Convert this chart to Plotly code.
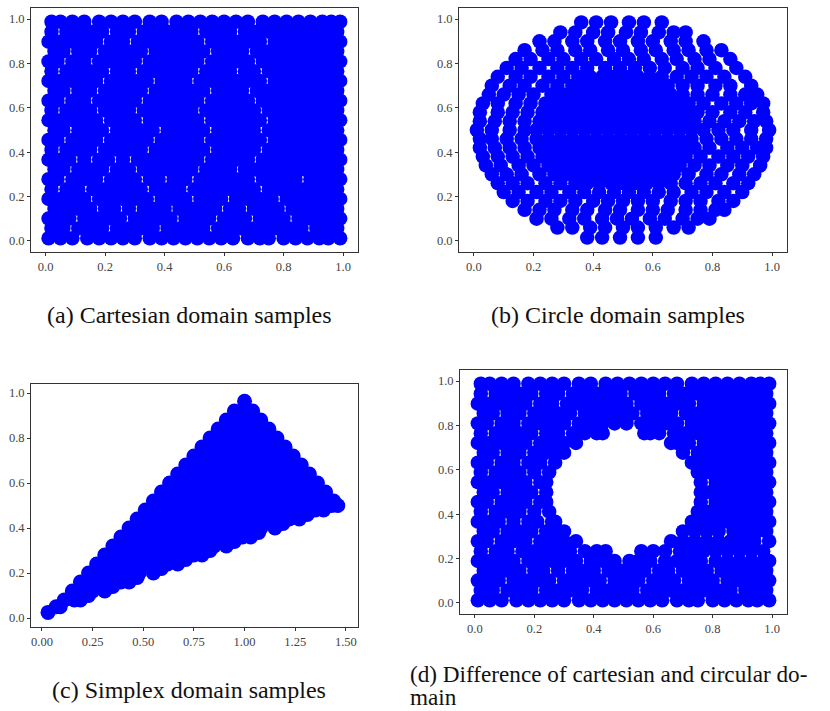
import plotly.graph_objects as go

W, H = 830, 711
BLUE = "#0000ff"

captions = ["(a) Cartesian domain samples", "(b) Circle domain samples", "(c) Simplex domain samples"]
caption_d = ["Difference of cartesian and circular do-", "main"]
caption_d_label = "(d)"

a_y = [.012,.056,.101,.145,.189,.233,.278,.322,.366,.411,.455,.499,.544,.588,.632,.677,.721,.765,.809,.854,.898,.943,.988]
a_x = [
[.01,.05,.09,.14,.18,.22,.26,.30,.35,.39,.43,.47,.51,.55,.59,.63,.68,.72,.75,.80,.84,.88,.92,.95,.99],
[.02,.06,.11,.15,.19,.24,.28,.32,.36,.41,.45,.49,.53,.58,.62,.66,.70,.74,.78,.82,.86,.91,.94,.98],
[.01,.04,.08,.13,.17,.21,.25,.30,.34,.38,.42,.47,.51,.55,.60,.64,.67,.72,.76,.80,.85,.89,.93,.96,.99],
[.03,.07,.11,.15,.20,.23,.28,.33,.36,.40,.45,.49,.53,.57,.62,.65,.70,.74,.78,.83,.87,.91,.95,.98],
[.01,.05,.09,.13,.18,.22,.26,.30,.34,.39,.43,.47,.52,.55,.59,.64,.68,.72,.76,.81,.85,.89,.93,.97,.99],
[.02,.07,.11,.16,.20,.24,.28,.32,.37,.41,.45,.50,.54,.58,.62,.66,.70,.75,.79,.83,.87,.91,.95,.98],
[.01,.04,.09,.13,.17,.22,.26,.30,.35,.38,.43,.47,.52,.56,.60,.64,.68,.73,.77,.81,.84,.89,.93,.97,.99],
[.03,.06,.11,.15,.19,.24,.28,.33,.37,.41,.45,.49,.54,.58,.62,.67,.71,.75,.79,.83,.87,.91,.95,.98],
[.01,.05,.08,.13,.18,.21,.26,.31,.35,.39,.43,.47,.51,.56,.60,.64,.68,.73,.77,.81,.85,.89,.93,.96,.99],
[.02,.07,.11,.15,.20,.24,.28,.32,.37,.41,.45,.49,.53,.58,.62,.66,.70,.75,.79,.83,.87,.91,.95,.98],
[.01,.04,.09,.13,.17,.22,.26,.30,.34,.39,.43,.47,.51,.56,.60,.64,.68,.72,.77,.81,.85,.89,.93,.97,.99],
[.03,.06,.11,.15,.19,.24,.28,.32,.36,.41,.45,.49,.53,.58,.62,.66,.70,.75,.79,.83,.87,.91,.95,.98],
[.01,.05,.09,.13,.17,.22,.26,.30,.35,.39,.43,.47,.51,.56,.60,.64,.68,.72,.77,.81,.85,.89,.93,.96,.99],
[.02,.07,.11,.15,.20,.24,.28,.33,.37,.41,.45,.49,.54,.58,.62,.66,.70,.75,.79,.83,.87,.91,.95,.98],
[.01,.04,.09,.13,.18,.22,.26,.30,.35,.39,.43,.47,.51,.56,.60,.64,.68,.73,.77,.81,.85,.89,.93,.97,.99],
[.03,.06,.11,.15,.20,.24,.28,.32,.37,.41,.45,.49,.53,.58,.62,.66,.71,.75,.79,.83,.87,.91,.95,.98],
[.01,.05,.09,.13,.17,.22,.26,.30,.34,.39,.43,.47,.52,.56,.60,.64,.68,.72,.77,.81,.85,.89,.93,.96,.99],
[.02,.07,.11,.15,.19,.24,.28,.33,.37,.41,.45,.49,.54,.58,.62,.67,.70,.75,.79,.83,.87,.91,.95,.98],
[.01,.04,.09,.13,.18,.22,.26,.30,.35,.39,.43,.47,.51,.56,.60,.64,.68,.73,.77,.81,.85,.89,.93,.97,.99],
[.03,.06,.11,.15,.20,.24,.28,.32,.37,.41,.45,.49,.53,.58,.62,.66,.71,.75,.79,.83,.87,.91,.95,.98],
[.01,.05,.09,.13,.17,.22,.26,.31,.35,.39,.43,.47,.51,.56,.60,.64,.68,.72,.77,.81,.85,.89,.93,.96,.99],
[.02,.07,.11,.15,.19,.24,.28,.33,.37,.41,.45,.49,.54,.58,.62,.67,.71,.75,.79,.83,.87,.91,.95,.98],
[.02,.05,.09,.13,.18,.22,.26,.30,.35,.39,.44,.48,.52,.56,.60,.64,.68,.73,.77,.81,.85,.89,.93,.96,.99],
]

b_y = [.015,.06,.10,.14,.18,.22,.26,.30,.34,.38,.42,.46,.50,.54,.58,.62,.66,.70,.74,.78,.82,.86,.90,.94,.985]
b_x = [
[.38,.43,.49,.55,.61],
[.28,.33,.39,.44,.50,.55,.61,.67,.72],
[.21,.26,.32,.37,.43,.48,.53,.59,.64,.70,.75,.79],
[.17,.22,.27,.33,.38,.44,.49,.55,.60,.65,.71,.76,.81,.84],
[.13,.18,.24,.29,.34,.40,.45,.50,.55,.60,.66,.71,.76,.82,.87],
[.10,.15,.21,.26,.32,.37,.42,.47,.52,.57,.62,.67,.73,.78,.84,.90],
[.08,.13,.18,.24,.29,.34,.38,.42,.46,.50,.54,.58,.62,.66,.71,.76,.81,.87,.92],
[.06,.11,.16,.22,.27,.31,.35,.39,.43,.47,.51,.55,.59,.63,.67,.72,.78,.83,.89,.94],
[.04,.09,.15,.20,.25,.29,.33,.37,.41,.45,.49,.53,.57,.61,.65,.69,.74,.79,.85,.90,.96],
[.03,.08,.13,.18,.23,.27,.31,.35,.39,.43,.47,.51,.55,.59,.63,.67,.71,.76,.82,.87,.92,.97],
[.02,.07,.12,.17,.22,.26,.30,.34,.38,.42,.46,.50,.54,.58,.62,.66,.70,.74,.79,.85,.90,.95,.98],
[.02,.06,.11,.16,.21,.25,.29,.33,.37,.41,.45,.49,.53,.57,.61,.65,.69,.73,.78,.83,.88,.93,.98],
[.01,.06,.12,.17,.21,.25,.29,.33,.37,.41,.45,.49,.53,.57,.61,.65,.69,.73,.77,.82,.87,.93,.99],
[.02,.07,.12,.17,.22,.26,.30,.34,.38,.42,.46,.50,.54,.58,.62,.66,.70,.74,.79,.84,.89,.94,.98],
[.02,.08,.13,.18,.23,.27,.31,.35,.39,.43,.47,.51,.55,.59,.63,.67,.71,.75,.80,.86,.91,.97],
[.03,.08,.14,.19,.24,.28,.32,.36,.40,.44,.48,.52,.56,.60,.64,.68,.72,.77,.83,.88,.93,.97],
[.05,.10,.15,.20,.26,.30,.34,.38,.42,.46,.50,.54,.58,.62,.66,.70,.75,.80,.86,.91,.95],
[.06,.12,.17,.23,.28,.33,.37,.41,.45,.49,.53,.57,.61,.65,.70,.75,.81,.86,.93],
[.08,.14,.19,.25,.30,.35,.39,.43,.47,.51,.55,.59,.63,.68,.73,.78,.84,.91],
[.11,.16,.22,.28,.33,.38,.44,.49,.54,.59,.64,.70,.75,.81,.88],
[.14,.19,.25,.30,.36,.41,.47,.52,.57,.63,.68,.74,.79,.86],
[.17,.23,.28,.34,.39,.45,.50,.56,.61,.67,.72,.78,.83],
[.22,.27,.33,.38,.44,.49,.55,.60,.66,.71,.77],
[.29,.34,.40,.45,.51,.56,.62,.67,.71],
[.36,.41,.46,.52,.57,.63],
]

c_y = [.025,.05,.08,.12,.16,.20,.24,.28,.32,.36,.40,.44,.48,.50,.52,.56,.60,.64,.68,.72,.76,.80,.84,.88,.92,.963,
       .10,.14,.18,.22,.26,.30,.34,.38,.42,.46]
c_x = [
[.03],
[.07,.09],
[.11,.16,.19],
[.15,.20,.25,.31],
[.19,.24,.29,.34,.39,.43],
[.23,.28,.33,.38,.43,.48,.55],
[.27,.32,.37,.42,.47,.52,.57,.62,.67],
[.31,.36,.41,.46,.51,.56,.61,.66,.71,.75,.79],
[.35,.40,.45,.50,.55,.60,.65,.70,.75,.80,.85,.91],
[.39,.44,.49,.54,.59,.64,.69,.74,.79,.84,.89,.94,.99,1.03],
[.43,.48,.53,.58,.63,.68,.73,.78,.83,.88,.93,.98,1.03,1.08,1.15],
[.47,.52,.57,.62,.67,.72,.77,.82,.87,.92,.97,1.02,1.07,1.12,1.17,1.22,1.27],
[.51,.56,.61,.66,.71,.76,.81,.86,.91,.96,1.01,1.06,1.11,1.16,1.21,1.26,1.31,1.35,1.39],
[1.46,1.43],
[.55,.60,.65,.70,.75,.80,.85,.90,.95,1.00,1.05,1.10,1.15,1.20,1.25,1.30,1.35,1.40,1.44],
[.59,.64,.69,.74,.79,.84,.89,.94,.99,1.04,1.09,1.14,1.19,1.24,1.29,1.34,1.40],
[.63,.68,.73,.78,.83,.88,.93,.98,1.03,1.08,1.13,1.18,1.23,1.28,1.32,1.36],
[.67,.72,.77,.82,.87,.92,.97,1.02,1.07,1.12,1.17,1.22,1.27,1.32],
[.71,.76,.81,.86,.91,.96,1.01,1.06,1.11,1.16,1.21,1.25,1.28],
[.75,.80,.85,.90,.95,1.00,1.05,1.10,1.15,1.20,1.24],
[.79,.84,.89,.94,.99,1.04,1.09,1.14,1.20],
[.83,.88,.93,.98,1.03,1.08,1.12,1.16],
[.87,.92,.97,1.02,1.07,1.12],
[.91,.96,1.01,1.05,1.08],
[.95,1.00,1.04],
[1.00],
[.23],[.35],[.47],[.59],[.71],[.83],[.95],[1.07],[1.19],[1.31],
]

d_y = [.012,.056,.101,.145,.189,.233,.278,.322,.366,.411,.455,.499,.544,.588,.632,.677,.721,.765,.809,.854,.898,.943,.988]
d_x = [
[.01,.05,.09,.14,.18,.22,.26,.30,.35,.39,.43,.47,.51,.55,.59,.63,.68,.72,.75,.80,.84,.88,.92,.95,.99],
[.02,.06,.11,.15,.19,.24,.28,.32,.36,.41,.45,.49,.53,.58,.62,.66,.70,.74,.78,.82,.86,.91,.94,.98],
[.01,.04,.08,.13,.17,.21,.25,.30,.34,.38,.42,.47,.51,.55,.60,.64,.67,.72,.76,.80,.85,.89,.93,.96,.99],
[.03,.07,.11,.15,.20,.23,.28,.33,.36,.40,.45,.49,.53,.57,.62,.65,.70,.74,.78,.83,.87,.91,.95,.98],
[.01,.05,.09,.13,.18,.22,.26,.30,.34,.39,.43,.47,.52,.55,.59,.64,.68,.72,.76,.81,.85,.89,.93,.97,.99],
[.02,.07,.11,.16,.20,.24,.28,.32,.37,.41,.44,.56,.60,.64,.69,.73,.77,.81,.85,.89,.93,.97],
[.01,.04,.09,.13,.17,.22,.26,.30,.34,.66,.70,.74,.78,.82,.86,.90,.94,.99],
[.03,.06,.11,.15,.19,.24,.28,.30,.70,.74,.78,.82,.87,.91,.95,.98],
[.01,.05,.08,.13,.18,.21,.26,.27,.73,.77,.81,.85,.89,.93,.96,.99],
[.02,.07,.11,.15,.20,.25,.75,.79,.83,.87,.91,.95,.98],
[.01,.04,.09,.13,.17,.22,.24,.76,.81,.85,.89,.93,.97,.99],
[.03,.06,.11,.15,.19,.24,.76,.79,.83,.87,.91,.95,.98],
[.01,.05,.09,.13,.17,.22,.24,.76,.81,.85,.89,.93,.96,.99],
[.02,.07,.11,.15,.20,.25,.75,.79,.83,.87,.91,.95,.98],
[.01,.04,.09,.13,.18,.22,.27,.73,.77,.81,.85,.89,.93,.97,.99],
[.03,.06,.11,.15,.20,.24,.28,.30,.70,.75,.79,.83,.87,.91,.95,.98],
[.01,.05,.09,.13,.17,.22,.26,.30,.34,.66,.68,.72,.77,.81,.85,.89,.93,.96,.99],
[.02,.07,.11,.15,.19,.24,.28,.33,.37,.41,.43,.57,.59,.62,.67,.71,.75,.79,.83,.87,.91,.95,.98],
[.01,.04,.09,.13,.18,.22,.26,.30,.35,.39,.43,.47,.51,.56,.60,.64,.68,.73,.77,.81,.85,.89,.93,.97,.99],
[.03,.06,.11,.15,.20,.24,.28,.32,.37,.41,.45,.49,.53,.58,.62,.66,.71,.75,.79,.83,.87,.91,.95,.98],
[.01,.05,.09,.13,.17,.22,.26,.31,.35,.39,.43,.47,.51,.56,.60,.64,.68,.72,.77,.81,.85,.89,.93,.96,.99],
[.02,.07,.11,.15,.19,.24,.28,.33,.37,.41,.45,.49,.54,.58,.62,.67,.71,.75,.79,.83,.87,.91,.95,.98],
[.02,.05,.09,.13,.18,.22,.26,.30,.35,.39,.44,.48,.52,.56,.60,.64,.68,.73,.77,.81,.85,.89,.93,.96,.99],
]

unit_ticks = [0, .2, .4, .6, .8, 1]
unit_labels = ["0.0", "0.2", "0.4", "0.6", "0.8", "1.0"]
simplex_x_ticks = [0, .25, .5, .75, 1, 1.25, 1.5]
simplex_x_labels = ["0.00", "0.25", "0.50", "0.75", "1.00", "1.25", "1.50"]

def flat(ys, rows):
    xs_out, ys_out = [], []
    for y, row in zip(ys, rows):
        for x in row:
            xs_out.append(x)
            ys_out.append(y)
    return xs_out, ys_out

panels = [
    (a_x, a_y, (31, 358, 8, 252), (-.049, 1.05), (-.05, 1.05), unit_ticks, unit_labels, 14.5),
    (b_x, b_y, (459, 787, 8, 252), (-.05, 1.05), (-.05, 1.05), unit_ticks, unit_labels, 14.5),
    (c_x, c_y, (31, 358, 384, 627), (-.054, 1.56), (-.04, 1.04), simplex_x_ticks, simplex_x_labels, 15),
    (d_x, d_y, (460, 787, 370, 614), (-.05, 1.05), (-.05, 1.05), unit_ticks, unit_labels, 14.5),
]

fig = go.Figure()
layout = {}
tick_font = dict(family="Liberation Serif", size=12.5, color="#444444")
for i, (rows, ys, box, xr, yr, xt, xl, msize) in enumerate(panels, start=1):
    px, py = flat(ys, rows)
    fig.add_trace(go.Scatter(x=px, y=py, mode="markers", xaxis=f"x{i}", yaxis=f"y{i}",
                             marker=dict(color=BLUE, size=msize, line=dict(width=0)), showlegend=False))
    l, r, t, b = box
    common = dict(showgrid=False, zeroline=False, showline=True, mirror=True, linecolor="#333333",
                  linewidth=1, ticks="outside", ticklen=3, tickcolor="#333333", tickfont=tick_font)
    layout[f"xaxis{i}"] = dict(domain=[l / W, r / W], range=list(xr), anchor=f"y{i}",
                               tickvals=xt, ticktext=xl, **common)
    layout[f"yaxis{i}"] = dict(domain=[1 - b / H, 1 - t / H], range=list(yr), anchor=f"x{i}",
                               tickvals=unit_ticks, ticktext=unit_labels, **common)

def note(text, x, y, anchor="center", size=24):
    return dict(text=text, x=x / W, y=1 - y / H, xref="paper", yref="paper", showarrow=False,
                xanchor=anchor, yanchor="middle",
                font=dict(family="Liberation Serif", size=size, color="#111111"))

annotations = [note(captions[0], 189, 315), note(captions[1], 618, 315), note(captions[2], 189, 690),
               note(caption_d_label + " " + caption_d[0], 408, 674, "left", 23.2), note(caption_d[1], 408, 697, "left", 23.2)]

fig.update_layout(width=W, height=H, margin=dict(l=0, r=0, t=0, b=0), paper_bgcolor="white",
                  plot_bgcolor="white", annotations=annotations, **layout)
fig.write_html("out.html", config={"displayModeBar": False},
               post_script="document.body.style.margin='0';document.body.style.overflow='hidden';")
